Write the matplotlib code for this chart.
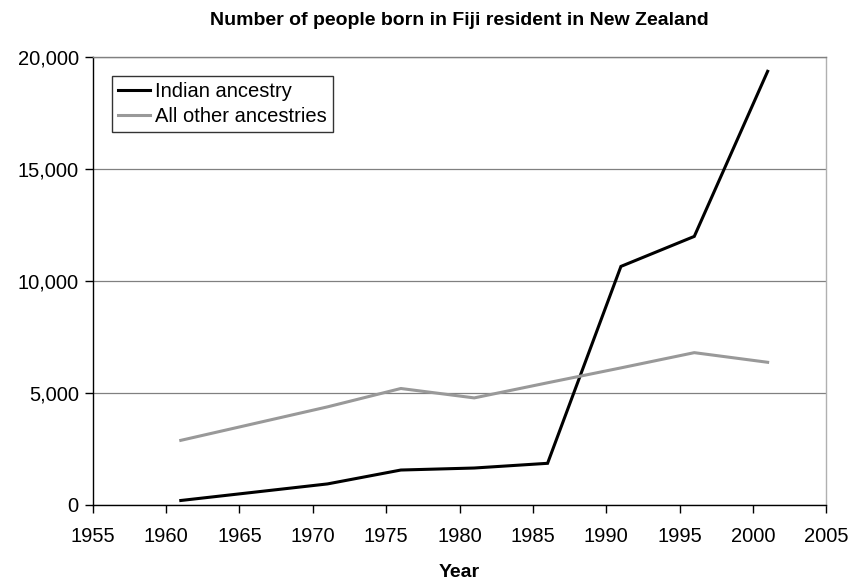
import matplotlib
matplotlib.use("Agg")
import matplotlib.pyplot as plt
from matplotlib.ticker import FuncFormatter

# census years and counts
years = [1961, 1971, 1976, 1981, 1986, 1991, 1996, 2001]
indian = [180, 920, 1540, 1630, 1840, 10630, 11970, 19340]
other = [2865, 4360, 5180, 4760, 5435, 6100, 6780, 6350]

x_ticks = list(range(1955, 2006, 5))
y_ticks = [0, 5000, 10000, 15000, 20000]

plt.rcParams['font.family'] = ['Liberation Sans', 'DejaVu Sans']

fig = plt.figure(figsize=(8.51, 5.87), dpi=100)
ax = fig.add_axes([0.109, 0.1405, 0.862, 0.7632])

ax.plot(years, indian, color='black', lw=2.2, label='Indian ancestry', solid_joinstyle='miter')
ax.plot(years, other, color='#999999', lw=2.2, label='All other ancestries')

ax.set_xlim(1955, 2005)
ax.set_ylim(0, 20000)
ax.set_xticks(x_ticks)
ax.set_yticks(y_ticks)
ax.yaxis.set_major_formatter(FuncFormatter(lambda v, p: f'{int(v):,}'))
ax.tick_params(axis='both', direction='out', length=6, width=1, labelsize=14.5, colors='black')
ax.tick_params(axis='x', pad=10)
ax.tick_params(axis='y', pad=4)

ax.yaxis.grid(True, color='#808080', lw=0.9)
ax.set_axisbelow(True)
ax.spines['left'].set_color('black')
ax.spines['bottom'].set_color('black')
ax.spines['top'].set_color('#808080')
ax.spines['right'].set_color('#b0b0b0')
for s in ax.spines.values():
    s.set_linewidth(1)

ax.set_title('Number of people born in Fiji resident in New Zealand',
             fontsize=14, fontweight='bold', pad=23)
ax.set_xlabel('Year', fontsize=14, fontweight='bold', labelpad=13)

leg = ax.legend(loc='upper left', bbox_to_anchor=(0.026, 0.957), fontsize=14.5,
                frameon=True, fancybox=False, handlelength=1.6, handletextpad=0.25,
                borderpad=0.3, labelspacing=0.3, borderaxespad=0)
leg.get_frame().set_edgecolor('black')
leg.get_frame().set_linewidth(1)

fig.savefig('out.png', dpi=100)
